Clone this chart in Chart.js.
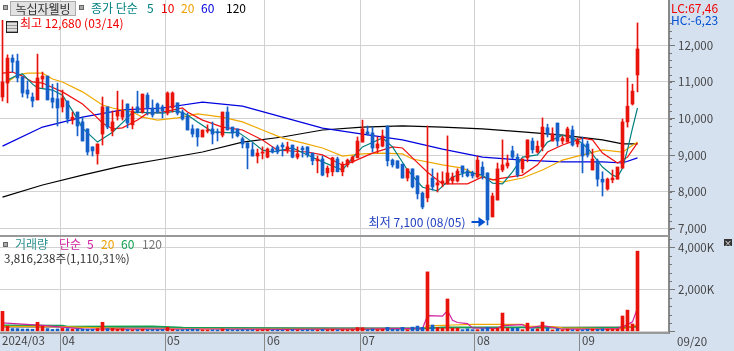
<!DOCTYPE html>
<html>
<head>
<meta charset="utf-8">
<script src="https://cdn.jsdelivr.net/npm/chart.js"></script>
<style>
  html, body { margin: 0; padding: 0; background: #fff; overflow: hidden; }
  #wrap { position: relative; width: 734px; height: 351px; font: 12px "Noto Sans CJK KR", sans-serif; }
  canvas { position: absolute; left: 0; }
  .t { position: absolute; white-space: pre; line-height: 14px; z-index: 2; }
  .sq { position: absolute; width: 3px; height: 3px; background: #aaa; border: 1px solid #666; z-index: 2; }
</style>
</head>
<body>
<div id="wrap">
  <canvas id="priceChart" width="734" height="235" style="top:0"></canvas>
  <canvas id="volumeChart" width="734" height="116" style="top:235px"></canvas>

  <div class="sq" style="left:3px;top:5px"></div>
  <div class="t" style="left:10px;top:1px;width:64px;height:13px;background:#e2e2e2;border:1px solid #aaa;text-align:center;color:#333;line-height:13px">녹십자웰빙</div>
  <div class="sq" style="left:79px;top:5px"></div>
  <div class="t" style="left:91px;top:1px;color:#008080">종가 단순</div>
  <div class="t" style="left:147px;top:1px;color:#008080">5</div>
  <div class="t" style="left:161px;top:1px;color:#f00000">10</div>
  <div class="t" style="left:181px;top:1px;color:#f0a000">20</div>
  <div class="t" style="left:201px;top:1px;color:#0000e0">60</div>
  <div class="t" style="left:226px;top:1px;color:#000">120</div>
  <div style="position:absolute;left:6px;top:21px;width:10px;height:10px;border:1px solid #222;background:repeating-linear-gradient(0deg,#999 0 1px,#ddd 1px 3px);z-index:2"></div>
  <div class="t" style="left:671px;top:1px;color:#f00000">LC:67,46</div>
  <div class="t" style="left:671px;top:13px;color:#0050d0">HC:-6,23</div>

  <div class="sq" style="left:3px;top:242px"></div>
  <div class="t" style="left:15px;top:237px;color:#309090">거래량</div>
  <div class="t" style="left:59px;top:237px;color:#d020a0">단순</div>
  <div class="t" style="left:87px;top:237px;color:#d020a0">5</div>
  <div class="t" style="left:101px;top:237px;color:#f0a000">20</div>
  <div class="t" style="left:121px;top:237px;color:#10a050">60</div>
  <div class="t" style="left:142px;top:237px;color:#777">120</div>
  <div class="t" style="left:4px;top:251px;color:#333;font-size:11.6px">3,816,238주(1,110,31%)</div>
  <div class="t" style="left:724px;top:239px;width:8px;height:7px;background:#333;color:#fff;font-size:8px;line-height:7px;text-align:center">×</div>
</div>

<script>
const opens = [
  10590,10970,11650,11570,11140,10780,10590,10510,11080,11160,
  10560,10540,10320,10480,9960,10180,9910,9720,9230,9040,
  9580,10320,9660,10070,10040,10400,9830,10320,10180,10640,
  10290,10400,10320,10150,10290,10430,10180,10070,9720,9720,
  9500,9660,9720,9640,9550,10180,9770,9720,9450,9340,
  9150,8980,9060,8950,9170,9230,9280,9150,9280,8950,
  9200,9230,9060,8850,8900,8520,8550,8900,8550,8740,
  8820,8930,9360,9640,9610,9200,9250,9800,8870,8850,
  8760,8380,8630,8440,7970,7840,8380,8190,8250,8220,
  8300,8300,8710,8570,8520,8410,8680,8520,7320,7780,
  8600,8710,9120,8950,8630,8930,9390,9090,9230,9750,
  9390,9880,9390,9360,9690,9310,9310,9310,8600,8850,
  8350,8080,8330,8350,8650,9910,10400,11190];
const closes = [
  11000,11650,11540,11110,10700,10670,10480,11110,11160,10510,
  10450,10290,10560,9990,10040,9800,9390,9090,9120,9310,
  10320,9770,9910,10210,10210,9880,10210,10180,10670,10290,
  10100,10180,10210,10700,10700,10150,9990,9690,9580,9500,
  9690,9690,9580,9610,10180,9690,9610,9530,9310,9200,
  8980,9060,9090,9170,9090,9090,9230,9230,8950,9040,
  9150,9010,8850,8900,8460,8650,8930,8550,8760,8870,
  8950,9390,9720,9580,9200,9310,9530,8850,8740,8650,
  8380,8630,8140,7950,7590,8190,8140,8250,8300,8520,
  8410,8570,8520,8440,8440,8870,8460,7240,7890,8630,
  8740,8790,8950,8460,8900,9420,9150,9250,9770,9580,
  9580,9390,9470,9720,9280,9390,8980,9010,8900,8350,
  8270,8350,8380,8680,9910,10340,10750,11900];
const highs = [
  12680,11740,11740,11760,11140,11030,10700,11760,11270,11160,
  10940,10970,10780,10480,10180,10180,10040,9720,9230,9310,
  10590,10320,10210,10750,10510,10400,10320,10750,10670,10700,
  10510,10430,10370,10730,10730,10430,10240,10150,9830,9720,
  9690,9830,9910,9720,10180,10320,9770,9720,9500,9340,
  9340,9170,9230,9200,9230,9280,9340,9360,9280,9230,
  9250,9230,9060,8980,8980,8710,8950,8950,8820,8900,
  8980,9500,9960,9800,9770,9500,9690,9800,8900,8850,
  8760,8630,8630,8440,8000,9800,8630,8520,8550,9530,
  8520,8630,8710,8630,8570,8980,8820,8520,7970,8790,
  9420,9010,9250,9040,8900,9420,9470,9390,10020,9850,
  9750,9880,9530,9770,9800,9470,9500,9390,9170,8900,
  8550,8380,8600,8680,9990,11110,10940,12610];
const lows = [
  10480,10430,11270,11000,10590,10560,10320,10510,10840,10510,
  10290,9800,10180,9880,9850,9530,9390,9010,8980,8760,
  9280,9720,9530,9960,9960,9750,9720,10150,10150,10100,
  10040,10150,10020,10100,10180,10100,9960,9690,9500,9250,
  9500,9610,9310,9390,9500,9690,9470,9500,9200,8630,
  8980,8790,8900,8930,9060,9040,8980,9060,8930,8900,
  8950,8950,8740,8520,8440,8410,8440,8550,8440,8680,
  8790,8930,9360,9550,9090,9060,9230,8710,8680,8650,
  8380,8300,8110,7810,7540,7730,8050,8000,8140,8220,
  8220,8270,8410,8410,8380,8380,8350,7100,7320,7780,
  8550,8650,8900,8410,8520,8820,9060,9060,9120,9500,
  9390,9250,9310,9360,9250,9230,8520,8950,8600,8160,
  7890,8050,8250,8350,8650,9770,10370,10730];
// thousands of shares
const volumes = [
  950,240,130,130,110,110,100,430,240,130,
  90,110,140,130,110,110,110,100,100,130,
  430,130,140,100,120,80,70,80,100,80,
  80,80,90,190,90,70,80,90,100,90,
  70,60,70,60,110,90,70,70,80,70,
  70,60,70,70,60,60,60,60,80,60,
  60,70,70,60,90,70,90,70,80,70,
  80,180,170,80,110,80,100,190,100,90,
  190,70,200,250,190,2830,300,180,150,1540,
  150,150,80,120,80,80,120,190,120,150,
  870,150,150,150,80,390,120,120,440,150,
  70,120,70,100,70,70,70,100,100,100,
  120,100,100,100,730,1010,350,3816];

// moving averages at a few days each
const ma5Days = [1,3,4,6,7,10,12,14,16,19,22,25,26,32,35,37,39,42,46,47,50,52,54,58,61,64,68,70,72,76,78,81,84,87,90,93,96,98,100,102,104,107,109,112,115,117,120,122,123,124,125,126,127];
const ma5 = [11050,11190,11220,10940,10840,10780,10640,10210,9740,9360,9630,10020,10180,10150,10210,10100,9910,9640,9610,9640,9360,9140,9090,9200,9010,8820,8600,8930,9230,9470,9230,8600,8130,8030,8410,8550,8460,8240,8220,8550,8950,9010,9360,9550,9420,9200,8680,8460,8410,8650,9150,9740,10290];
const ma10Days = [0,2,4,6,8,12,16,18,20,22,24,27,29,32,36,37,40,44,48,52,55,61,64,68,70,74,78,80,82,85,88,93,96,98,100,104,107,109,112,116,118,120,123,125,127];
const ma10 = [11240,11270,11160,11000,10970,10730,10400,10150,9880,9720,9750,9960,10150,10180,10290,10180,9960,9770,9690,9420,9140,9090,9010,8730,8820,9060,9230,9200,8930,8540,8220,8220,8410,8330,8380,8460,8740,9090,9280,9470,9420,9060,8790,8950,9340];
const ma20Days = [1,3,5,8,10,12,16,20,22,26,28,31,35,39,44,48,52,56,60,64,68,72,76,80,82,88,92,96,100,104,108,112,116,120,124,127];
const ma20 = [11000,11190,11240,11240,11080,11000,10730,10370,10290,10180,10040,9960,10020,10130,10040,9910,9690,9470,9340,9200,8980,9040,9060,9040,8900,8740,8650,8410,8270,8380,8600,8870,9010,9150,9090,9360];
const ma60Days = [0,8,16,24,32,40,48,56,64,72,80,88,96,104,112,120,124,127];
const ma60 = [9250,9770,10040,10240,10290,10450,10340,10040,9740,9580,9420,9170,8950,8870,8820,8820,8790,8930];
const ma120Days = [0,8,16,24,32,40,48,56,64,72,80,88,96,104,112,120,124,127];
const ma120 = [7860,8190,8460,8710,8900,9090,9360,9500,9690,9770,9800,9770,9720,9640,9550,9420,9310,9310];

const volMa5Days = [0,8,16,24,32,40,48,56,64,72,80,84,85,88,89,90,91,93,94,99,100,104,105,108,110,112,120,123,125,126,127];
const volMa5 = [400,280,120,100,100,110,100,90,100,100,130,130,750,720,990,530,420,370,160,140,270,320,150,270,190,100,100,130,320,450,1110];
const volMa20Days = [0,12,24,48,72,84,85,88,90,94,104,105,110,112,120,124,127];
const volMa20 = [240,220,130,110,110,130,260,280,300,330,330,250,220,160,130,120,300];
const volMa60Days = [0,12,13,30,36,40,50,72,84,88,104,105,123,127];
const volMa60 = [290,280,230,240,180,170,160,130,130,190,190,170,170,220];
const volMa120Days = [0,60,84,127];
const volMa120 = [200,170,160,210];

const monthStarts = [0,12,33,53,72,95,116];
const monthLabels = ['2024/03','04','05','06','07','08','09'];
const lastDateLabel = '09/20';
const priceTicks = [7000,8000,9000,10000,11000,12000];
const volumeTicks = [0,2000,4000];
const highDate = '03/14';
const lowDate = '08/05';

const RED = '#e8140c', BLUE = '#1560c8';
const AXIS_FONT = '"Noto Sans CJK KR", sans-serif';
const BAND = '#d6e1f0';
const isUp = i => closes[i] >= opens[i];
const candleColor = ctx => isUp(ctx.dataIndex) ? RED : BLUE;
const line = (days, vals, color, order, width) => ({
  type: 'line', data: days.map((d, k) => ({ x: d, y: vals[k] })),
  borderColor: color, borderWidth: width || 1.2, pointRadius: 0, tension: 0, order: order
});

const num = v => v.toLocaleString('en-US');

// x runs from half a candle before the first day, 5px a day up to the price axis
const xScale = showLabels => ({
  type: 'linear', min: -0.5, max: 133.3, offset: false,
  afterBuildTicks: s => { s.ticks = monthStarts.map(d => ({ value: d - 0.5 })); },
  afterFit: s => { s.height = showLabels ? 18 : 0; s.paddingLeft = 0; s.paddingRight = 0; },
  grid: {
    color: c => c.index === 0 ? 'transparent' : '#d2d2d2',
    tickColor: c => c.index === 0 ? 'transparent' : '#888',
    drawTicks: showLabels, tickLength: 18, offset: false
  },
  border: { display: false },
  ticks: {
    display: showLabels, autoSkip: false, maxRotation: 0, align: 'start', labelOffset: 2, padding: -17,
    color: '#444', font: { family: AXIS_FONT, size: 11.5 },
    callback: v => monthLabels[monthStarts.indexOf(v + 0.5)]
  }
});

const yScale = (tickValues, fmt, min, max) => ({
  position: 'right', min: min, max: max,
  afterBuildTicks: s => { s.ticks = tickValues.map(v => ({ value: v })); },
  afterFit: s => { s.width = 65; s.paddingTop = 0; s.paddingBottom = 0; },
  grid: { color: '#d2d2d2', tickColor: '#777', tickLength: 6 },
  border: { color: '#888', width: 2 },
  ticks: { color: '#444', padding: 3, font: { family: AXIS_FONT, size: 11.5 }, callback: fmt }
});

// light blue axis bands, panel rules and the small ticks between the labelled ones
const framePlugin = {
  id: 'frame',
  beforeDraw(chart, args, opts) {
    const { ctx, chartArea: a, width, height } = chart;
    ctx.save();
    ctx.fillStyle = BAND;
    ctx.fillRect(a.right, 0, width - a.right, height);
    if (height > a.bottom) ctx.fillRect(0, a.bottom, width, height - a.bottom);
    ctx.restore();
  },
  afterDraw(chart, args, opts) {
    const { ctx, chartArea: a, scales } = chart;
    const y = scales.y;
    ctx.save();
    ctx.strokeStyle = '#777';
    ctx.lineWidth = 1;
    ctx.beginPath();
    for (let v = Math.ceil(y.min / opts.minorStep) * opts.minorStep; v <= opts.minorTop; v += opts.minorStep) {
      const p = Math.round(y.getPixelForValue(v)) + 0.5;
      ctx.moveTo(a.right, p);
      ctx.lineTo(a.right + 3, p);
    }
    ctx.stroke();
    ctx.strokeStyle = '#999';
    ctx.lineWidth = 2;
    ctx.beginPath();
    if (opts.topRule) { ctx.moveTo(0, a.top + 1); ctx.lineTo(a.right, a.top + 1); }
    if (opts.bottomRule) { ctx.moveTo(0, a.bottom); ctx.lineTo(a.right, a.bottom); }
    ctx.stroke();
    ctx.restore();
  }
};

// high and low call-outs, placed from the scales
const calloutPlugin = {
  id: 'callout',
  afterDatasetsDraw(chart) {
    const { ctx, scales: { x, y } } = chart;
    const hi = Math.max(...highs), lo = Math.min(...lows);
    const hx = x.getPixelForValue(highs.indexOf(hi)), hy = y.getPixelForValue(hi);
    const lx = x.getPixelForValue(lows.indexOf(lo)), ly = y.getPixelForValue(lo);
    ctx.save();
    ctx.font = '12px ' + AXIS_FONT;
    ctx.textBaseline = 'middle';
    ctx.fillStyle = '#f00000';
    ctx.textAlign = 'left';
    ctx.fillText('최고 ' + num(hi) + ' (' + highDate + ')', hx + 17.5, hy + 3);
    ctx.fillStyle = '#2040c0';
    ctx.textAlign = 'right';
    ctx.fillText('최저 ' + num(lo) + ' (' + lowDate + ')', lx - 22, ly - 3);
    ctx.strokeStyle = ctx.fillStyle = '#0050d0';
    ctx.lineWidth = 2;
    ctx.beginPath();
    ctx.moveTo(lx - 16, ly - 3);
    ctx.lineTo(lx - 8, ly - 3);
    ctx.stroke();
    ctx.beginPath();
    ctx.moveTo(lx - 2, ly - 3);
    ctx.lineTo(lx - 9, ly - 8);
    ctx.lineTo(lx - 9, ly + 2);
    ctx.closePath();
    ctx.fill();
    ctx.restore();
  }
};

// drawn after the first chart so the last date sits in the x band
const lastDatePlugin = {
  id: 'lastDate',
  afterDraw(chart) {
    const { ctx, chartArea: a, height } = chart;
    ctx.save();
    ctx.font = '11.5px ' + AXIS_FONT;
    ctx.fillStyle = '#444';
    ctx.textBaseline = 'middle';
    ctx.fillText(lastDateLabel, a.right + 8, (a.bottom + height) / 2);
    ctx.restore();
  }
};

const baseOptions = {
  responsive: false, animation: false, events: [],
  layout: { padding: 0 }
};

new Chart(document.getElementById('priceChart'), {
  type: 'bar',
  data: {
    datasets: [
      { data: lows.map((l, i) => ({ x: i, y: [l, highs[i]] })), backgroundColor: candleColor, barThickness: 1, grouped: false, order: 1 },
      { data: opens.map((o, i) => ({ x: i, y: [o, closes[i]] })), backgroundColor: candleColor, barThickness: 3, minBarLength: 1, grouped: false, order: 0 },
      line(ma120Days, ma120, '#000', 6),
      line(ma60Days, ma60, '#0000e0', 5),
      line(ma20Days, ma20, '#f0a800', 4),
      line(ma10Days, ma10, '#f01010', 3),
      line(ma5Days, ma5, '#008080', 2)
    ]
  },
  options: {
    ...baseOptions,
    scales: {
      x: xScale(false),
      y: yScale(priceTicks, num, 6827, 13235)
    },
    plugins: {
      legend: { display: false }, tooltip: { enabled: false },
      frame: { minorStep: 200, minorTop: 12700, topRule: false, bottomRule: false }
    }
  },
  plugins: [framePlugin, calloutPlugin]
});

new Chart(document.getElementById('volumeChart'), {
  type: 'bar',
  data: {
    datasets: [
      { data: volumes.map((v, i) => ({ x: i, y: v })), backgroundColor: candleColor, barThickness: 3, grouped: false, order: 1 },
      line(volMa120Days, volMa120, '#888', 5),
      line(volMa60Days, volMa60, '#10a050', 4, 1.6),
      line(volMa20Days, volMa20, '#f0a800', 3),
      line(volMa5Days, volMa5, '#d020a0', 2)
    ]
  },
  options: {
    ...baseOptions,
    scales: {
      x: xScale(true),
      y: yScale(volumeTicks, v => v === 0 ? '' : num(v) + 'K', -80, 4586)
    },
    plugins: {
      legend: { display: false }, tooltip: { enabled: false },
      frame: { minorStep: 400, minorTop: 4400, topRule: true, bottomRule: true }
    }
  },
  plugins: [framePlugin, lastDatePlugin]
});
</script>
</body>
</html>
